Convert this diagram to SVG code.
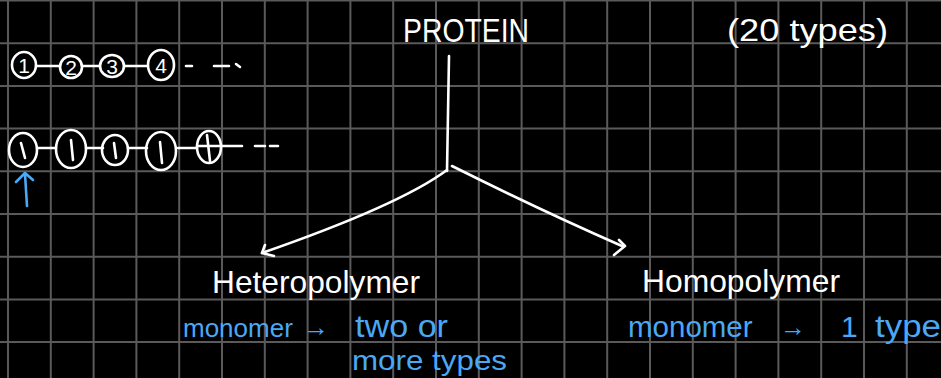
<svg xmlns="http://www.w3.org/2000/svg" width="941" height="378" viewBox="0 0 941 378">
<style>
.grid{stroke:#5a5a5a;stroke-width:2;fill:none}
.ink{stroke:#ffffff;stroke-width:2.6;fill:none;stroke-linecap:round;stroke-linejoin:round}
.blueink{stroke:#4aa8f5;stroke-width:2.6;fill:none;stroke-linecap:round;stroke-linejoin:round}
.w{fill:#ffffff;font-family:"Liberation Sans",Arial,sans-serif}
.b{fill:#4aa8f5;font-family:"Liberation Sans",Arial,sans-serif}
.num{fill:#ffffff;font-family:"Liberation Sans",Arial,sans-serif;font-size:21px;text-anchor:middle}
</style>
<rect x="0" y="0" width="941" height="378" fill="#000000"/>
<g id="grid" class="grid">
<path d="M8 0V378M50.8 0V378M93.6 0V378M136.4 0V378M179.2 0V378M222 0V378M264.8 0V378M307.6 0V378M350.4 0V378M393.2 0V378M436 0V378M478.8 0V378M521.6 0V378M564.4 0V378M607.2 0V378M650 0V378M692.8 0V378M735.6 0V378M778.4 0V378M821.2 0V378M864 0V378M906.8 0V378"/>
<path d="M0 0.5H941M0 43.2H941M0 85.9H941M0 128.6H941M0 171.3H941M0 214H941M0 256.7H941M0 299.4H941M0 342.1H941"/>
</g>
<g id="chain1">
<ellipse class="ink" cx="24" cy="65" rx="12" ry="13"/>
<text class="num" x="24" y="73">1</text>
<ellipse class="ink" cx="71" cy="67" rx="11" ry="11"/>
<text class="num" x="71" y="75">2</text>
<ellipse class="ink" cx="112" cy="66" rx="12" ry="11"/>
<text class="num" x="112" y="74">3</text>
<ellipse class="ink" cx="161" cy="65" rx="13" ry="15"/>
<text class="num" x="161" y="73">4</text>
<path class="ink" d="M36 66H60M82 66H100M124 66H148M186 66H192M214 66H229M236 64L240 67"/>
</g>
<g id="chain2">
<ellipse class="ink" cx="23" cy="150" rx="14" ry="17"/>
<path class="ink" d="M21 143L25 158"/>
<ellipse class="ink" cx="71" cy="149" rx="15" ry="19"/>
<path class="ink" d="M71 140L73 160"/>
<ellipse class="ink" cx="115" cy="150" rx="13" ry="15"/>
<path class="ink" d="M114 143L116 158"/>
<ellipse class="ink" cx="161" cy="151" rx="15" ry="19"/>
<path class="ink" d="M160 142L162 163"/>
<ellipse class="ink" cx="209" cy="147" rx="12" ry="16"/>
<path class="ink" d="M207 135L210 161M197 146H221"/>
<path class="ink" d="M37 148H56M86 148H103M128 148H147M178 148H197M221 146H242M255 146H265M270 146H278"/>
</g>
<g id="pointer">
<path class="blueink" d="M27 206L25 174M16 182L25 173L33 180"/>
</g>
<g id="protein">
<text class="w" x="403" y="42" font-size="34" textLength="126" lengthAdjust="spacingAndGlyphs">PROTEIN</text>
</g>
<g id="types20">
<text class="w" x="727" y="41" font-size="32" textLength="161" lengthAdjust="spacingAndGlyphs">(20 types)</text>
</g>
<g id="connectors">
<path class="ink" d="M449 56L447 171"/>
<path class="ink" d="M447 170Q400 205 262 253"/>
<path class="ink" d="M265 245L262 253L274 256"/>
<path class="ink" d="M452 166Q540 210 622 246"/>
<path class="ink" d="M619 240L625 246L614 255"/>
</g>
<g id="heteropolymer">
<text class="w" x="212" y="293" font-size="32" textLength="208" lengthAdjust="spacingAndGlyphs">Heteropolymer</text>
<text class="b" x="183" y="337" font-size="26">monomer</text>
<text class="b" x="303" y="336" font-size="26">→</text>
<text class="b" x="355" y="337" font-size="31" textLength="93" lengthAdjust="spacingAndGlyphs">two or</text>
<text class="b" x="352" y="370" font-size="28" textLength="155" lengthAdjust="spacingAndGlyphs">more types</text>
</g>
<g id="homopolymer">
<text class="w" x="642" y="292" font-size="32" textLength="198" lengthAdjust="spacingAndGlyphs">Homopolymer</text>
<text class="b" x="628" y="337" font-size="29.5">monomer</text>
<text class="b" x="780" y="336" font-size="26">→</text>
<text class="b" x="841" y="337" font-size="30">1</text>
<text class="b" x="875" y="337" font-size="31" textLength="66" lengthAdjust="spacingAndGlyphs">type</text>
</g>
</svg>
